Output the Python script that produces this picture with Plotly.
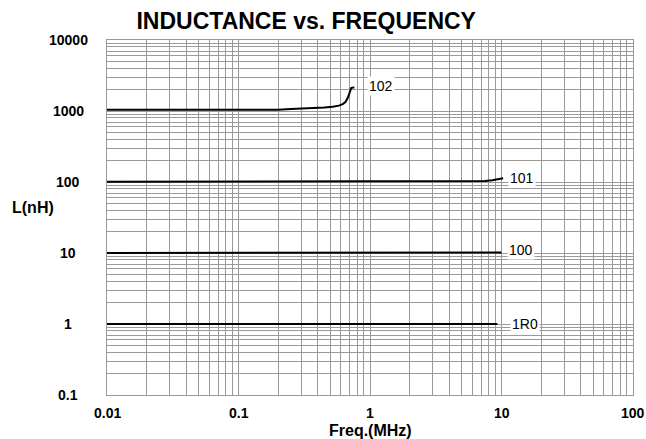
import math
import plotly.graph_objects as go

# ---- data ----
f_102 = [0.01, 0.2, 0.25, 0.35, 0.45, 0.52, 0.58, 0.62, 0.65, 0.68, 0.70, 0.72, 0.76]
L_102 = [1040, 1040, 1070, 1090, 1120, 1150, 1190, 1250, 1340, 1550, 1800, 2120, 2150]

f_101 = [0.01, 6.5, 7.5, 8.5, 9.5, 10.3]
L_101 = [101, 101, 103, 106, 110, 113]

f_100 = [0.01, 6.6, 6.8, 10.0]
L_100 = [10, 10, 10.2, 10.2]

f_1R0 = [0.01, 9.3]
L_1R0 = [1.0, 1.0]

series = [("102", f_102, L_102), ("101", f_101, L_101),
          ("100", f_100, L_100), ("1R0", f_1R0, L_1R0)]

# label anchor points (freq, L)
label_names = ["102", "101", "100", "1R0"]
label_f = [1.21, 14.2, 14.1, 15.0]
label_L = [2240, 114, 11.0, 1.0]

x_tickvals = [0.01, 0.1, 1, 10, 100]
x_ticktext = ["0.01", "0.1", "1", "10", "100"]
y_tickvals = [0.1, 1, 10, 100, 1000, 10000]
y_ticktext = ["0.1", "1", "10", "100", "1000", "10000"]

title = "INDUCTANCE vs. FREQUENCY"
x_title = "Freq.(MHz)"
y_title = "L(nH)"

FONT = "Liberation Sans, Arial, sans-serif"
GRID = "#9a9a9a"

fig = go.Figure()
for name, fx, ly in series:
    fig.add_trace(go.Scatter(x=fx, y=ly, mode="lines", name=name,
                             line=dict(color="black", width=2),
                             showlegend=False, hoverinfo="skip"))

x_minor = [m * 10 ** d for d in range(-2, 2) for m in range(2, 10)]
y_minor = [m * 10 ** d for d in range(-1, 4) for m in range(2, 10)]

fig.update_xaxes(type="log", range=[-2, 2], tickvals=x_tickvals, showticklabels=False,
                 showgrid=True, gridcolor=GRID, gridwidth=1,
                 minor=dict(tickvals=x_minor, showgrid=True, gridcolor=GRID, gridwidth=1, ticks=""),
                 showline=True, linecolor=GRID, linewidth=1, mirror=True,
                 ticks="", zeroline=False)
fig.update_yaxes(type="log", range=[-1, 4], tickvals=y_tickvals, showticklabels=False,
                 showgrid=True, gridcolor=GRID, gridwidth=1,
                 minor=dict(tickvals=y_minor, showgrid=True, gridcolor=GRID, gridwidth=1, ticks=""),
                 showline=True, linecolor=GRID, linewidth=1, mirror=True,
                 ticks="", zeroline=False)

TICKFONT = dict(family=FONT, size=14, color="black", weight="bold")
ann = []
for v, t in zip(y_tickvals, y_ticktext):
    ann.append(dict(x=-0.074, xref="paper", y=math.log10(v), yref="y", text=t,
                    showarrow=False, xanchor="center", yanchor="middle", font=TICKFONT))
for v, t in zip(x_tickvals, x_ticktext):
    ann.append(dict(x=math.log10(v), xref="x", y=-0.051, yref="paper", text=t,
                    showarrow=False, xanchor="center", yanchor="middle", font=TICKFONT))
for n, fx, ly in zip(label_names, label_f, label_L):
    ann.append(dict(x=math.log10(fx), y=math.log10(ly), xref="x", yref="y", text=n,
                    showarrow=False, xanchor="center", yanchor="middle",
                    bgcolor="white", borderpad=1,
                    font=dict(family=FONT, size=14, color="black")))
ann.append(dict(x=0.5, xref="paper", y=-0.099, yref="paper", text=x_title,
                showarrow=False, xanchor="center", yanchor="middle",
                font=dict(family=FONT, size=16, color="black", weight="bold")))
ann.append(dict(x=-0.1416, xref="paper", y=0.528, yref="paper", text=y_title,
                showarrow=False, xanchor="center", yanchor="middle",
                font=dict(family=FONT, size=16, color="black", weight="bold")))

fig.update_layout(
    width=646, height=439,
    margin=dict(l=107, r=13, t=40, b=44),
    paper_bgcolor="white", plot_bgcolor="white",
    title=dict(text=title, x=0.474, xanchor="center", y=1 - 21 / 439, yanchor="middle",
               xref="container", yref="container",
               font=dict(family=FONT, size=23, color="black", weight="bold")),
    annotations=ann,
)

fig.write_html("out.html", config={"displayModeBar": False},
               post_script="document.body.style.margin='0px';document.body.style.padding='0px';")
